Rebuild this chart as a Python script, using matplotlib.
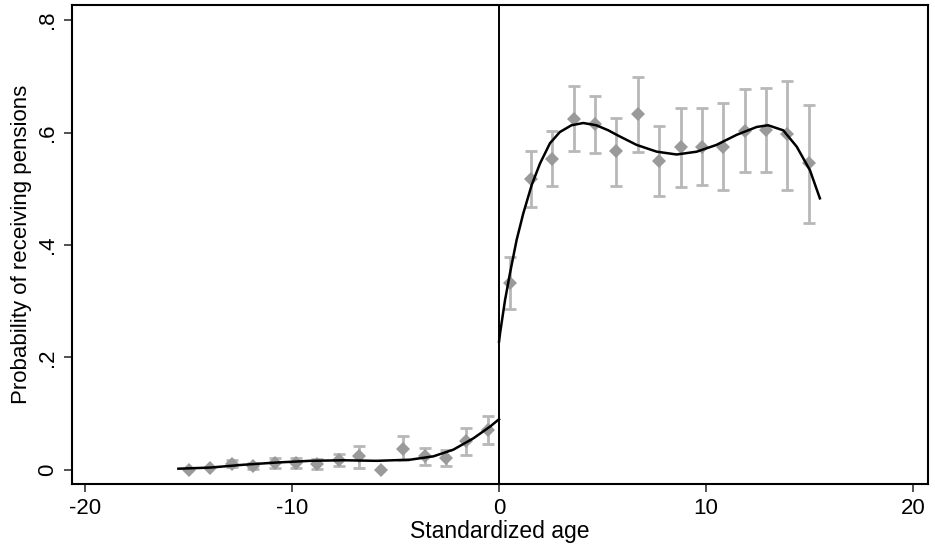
import numpy as np
import matplotlib
matplotlib.use("Agg")
import matplotlib.pyplot as plt

# binned means, left of cutoff
x_left = [-14.96, -13.96, -12.92, -11.87, -10.82, -9.80, -8.80, -7.73,
          -6.76, -5.70, -4.62, -3.60, -2.58, -1.59, -0.51]
y_left = [0.000, 0.003, 0.011, 0.006, 0.012, 0.012, 0.011, 0.017,
          0.024, 0.000, 0.037, 0.024, 0.021, 0.052, 0.071]
lo_left = [0.000, 0.002, 0.005, 0.001, 0.003, 0.003, 0.002, 0.006,
           0.003, 0.000, 0.018, 0.009, 0.007, 0.027, 0.046]
hi_left = [0.000, 0.004, 0.017, 0.012, 0.021, 0.021, 0.020, 0.029,
           0.043, 0.000, 0.061, 0.038, 0.036, 0.074, 0.096]

# binned means, right of cutoff
x_right = [0.53, 1.53, 2.58, 3.62, 4.65, 5.65, 6.70, 7.74,
           8.78, 9.79, 10.84, 11.88, 12.90, 13.93, 14.99]
y_right = [0.332, 0.517, 0.553, 0.625, 0.615, 0.567, 0.633, 0.550,
           0.574, 0.575, 0.575, 0.603, 0.604, 0.597, 0.545]
lo_right = [0.286, 0.468, 0.505, 0.567, 0.564, 0.505, 0.565, 0.487,
            0.503, 0.506, 0.498, 0.529, 0.529, 0.498, 0.440]
hi_right = [0.379, 0.568, 0.603, 0.683, 0.665, 0.626, 0.699, 0.612,
            0.643, 0.643, 0.652, 0.677, 0.680, 0.692, 0.649]

# fitted curves
fit_left_x = [-15.49, -13.96, -12.35, -10.74, -9.13, -7.52, -5.91, -4.30,
              -3.17, -2.20, -1.24, -0.43, 0.0]
fit_left_y = [0.002, 0.004, 0.009, 0.013, 0.016, 0.017, 0.016, 0.018,
              0.024, 0.036, 0.056, 0.077, 0.090]
fit_right_x = [0.0, 0.05, 0.29, 0.53, 0.85, 1.17, 1.58, 1.98, 2.46, 2.94,
               3.50, 4.07, 4.70, 5.28, 5.68, 6.65, 7.62, 8.58, 9.55, 10.50,
               11.48, 12.45, 13.00, 13.73, 14.38, 15.02, 15.50]
fit_right_y = [0.228, 0.243, 0.302, 0.350, 0.409, 0.456, 0.507, 0.545,
               0.581, 0.601, 0.613, 0.617, 0.613, 0.604, 0.596, 0.578,
               0.566, 0.561, 0.566, 0.578, 0.596, 0.610, 0.613, 0.604,
               0.575, 0.533, 0.483]

x_ticks = [-20, -10, 0, 10, 20]
x_ticklabels = ["-20", "-10", "0", "10", "20"]
y_ticks = [0, 0.2, 0.4, 0.6, 0.8]
y_ticklabels = ["0", ".2", ".4", ".6", ".8"]

plt.rcParams["font.family"] = ["Liberation Sans", "DejaVu Sans"]

fig = plt.figure(figsize=(9.35, 5.53), dpi=100)
ax = fig.add_axes([0.077, 0.125, 0.915, 0.866])

bar_col = "#b8b8b8"
mk_col = "#9a9a9a"

for xs, ys, lo, hi in [(x_left, y_left, lo_left, hi_left),
                       (x_right, y_right, lo_right, hi_right)]:
    ys = np.array(ys)
    err = np.vstack([ys - np.array(lo), np.array(hi) - ys])
    keep = (err.sum(axis=0) > 0.004)
    ax.errorbar(np.array(xs)[keep], ys[keep], yerr=err[:, keep], fmt="none",
                ecolor=bar_col, elinewidth=2.0, capsize=4, capthick=2.0,
                zorder=2)
    ax.plot(xs, ys, linestyle="none", marker="D", ms=7.5,
            color=mk_col, markeredgewidth=0, zorder=3)

ax.plot(fit_left_x, fit_left_y, color="black", lw=1.8, zorder=4)
ax.plot(fit_right_x, fit_right_y, color="black", lw=1.8, zorder=4)
ax.axvline(0, color="black", lw=1.4, zorder=1)

ax.set_xlim(-20.63, 20.7)
ax.set_ylim(-0.025, 0.827)
ax.set_xticks(x_ticks)
ax.set_xticklabels(x_ticklabels)
ax.set_yticks(y_ticks)
ax.set_yticklabels(y_ticklabels, rotation=90, va="center")

ax.tick_params(direction="out", length=6, width=1.2, labelsize=16,
               color="#333333", pad=4)
for s in ax.spines.values():
    s.set_linewidth(1.5)
    s.set_color("black")

ax.set_xlabel("Standardized age", fontsize=16.5, labelpad=1)
ax.set_ylabel("Probability of receiving pensions", fontsize=16, labelpad=4)

fig.savefig("out.png", dpi=100)
